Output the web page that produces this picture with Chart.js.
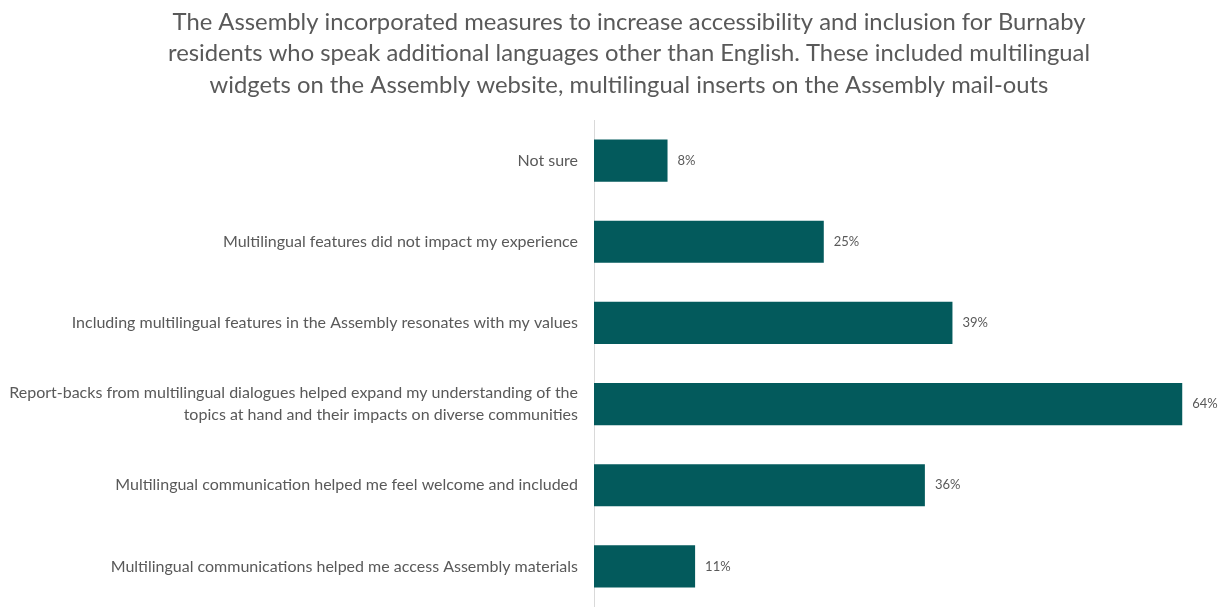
<!DOCTYPE html>
<html>
<head>
<meta charset="utf-8">
<script src="https://cdn.jsdelivr.net/npm/chart.js@4/dist/chart.umd.min.js"></script>
<style>
  html, body { margin: 0; padding: 0; background: #fff; }
  #wrap { width: 1220px; height: 607px; }
</style>
</head>
<body>
<div id="wrap"><canvas id="chart"></canvas></div>
<script>
const titleLines = [
  'The Assembly incorporated measures to increase accessibility and inclusion for Burnaby',
  'residents who speak additional languages other than English. These included multilingual',
  'widgets on the Assembly website, multilingual inserts on the Assembly mail-outs'
];

const categories = [
  'Not sure',
  'Multilingual features did not impact my experience',
  'Including multilingual features in the Assembly resonates with my values',
  ['Report-backs from multilingual dialogues helped expand my understanding of the', 'topics at hand and their impacts on diverse communities'],
  'Multilingual communication helped me feel welcome and included',
  'Multilingual communications helped me access Assembly materials'
];

const percents = [8, 25, 39, 64, 36, 11];

const barColor = '#035A5C';
const textColor = '#595959';
const fontFamily = 'Lato, "Open Sans", sans-serif';

// title sits a little right of the canvas centre in the original
const titleText = {
  id: 'titleText',
  afterDraw(chart) {
    const ctx = chart.ctx;
    ctx.save();
    ctx.font = '23.8px ' + fontFamily;
    ctx.fillStyle = textColor;
    ctx.textAlign = 'center';
    ctx.textBaseline = 'middle';
    titleLines.forEach((line, i) => {
      ctx.fillText(line, 629, 22 + i * 31.5);
    });
    ctx.restore();
  }
};

// writes "NN%" just past the end of each bar
const valueLabels = {
  id: 'valueLabels',
  afterDatasetsDraw(chart) {
    const ctx = chart.ctx;
    const meta = chart.getDatasetMeta(0);
    ctx.save();
    ctx.font = '13px ' + fontFamily;
    ctx.fillStyle = textColor;
    ctx.textAlign = 'left';
    ctx.textBaseline = 'middle';
    meta.data.forEach((bar, i) => {
      ctx.fillText(percents[i] + '%', bar.x + 10, bar.y);
    });
    ctx.restore();
  }
};

new Chart(document.getElementById('chart'), {
  type: 'bar',
  data: {
    labels: categories,
    datasets: [{
      data: percents,
      backgroundColor: barColor,
      borderWidth: 0,
      barPercentage: 0.52,
      categoryPercentage: 1.0
    }]
  },
  plugins: [valueLabels, titleText],
  options: {
    indexAxis: 'y',
    responsive: true,
    maintainAspectRatio: false,
    animation: false,
    layout: { padding: { left: 0, right: 1, top: 120, bottom: 0 } },
    scales: {
      x: {
        display: false,
        min: 0,
        max: 68
      },
      y: {
        grid: { display: false },
        border: { display: true, color: '#D9D9D9', width: 1 },
        ticks: {
          color: textColor,
          font: { family: fontFamily, size: 16, lineHeight: 1.38 },
          padding: 8
        },
        afterFit(axis) {
          axis.width = 594;
          axis.paddingTop = 0;
          axis.paddingBottom = 0;
        }
      }
    },
    plugins: {
      legend: { display: false },
      tooltip: { enabled: false },
      title: { display: false }
    }
  }
});
</script>
</body>
</html>
